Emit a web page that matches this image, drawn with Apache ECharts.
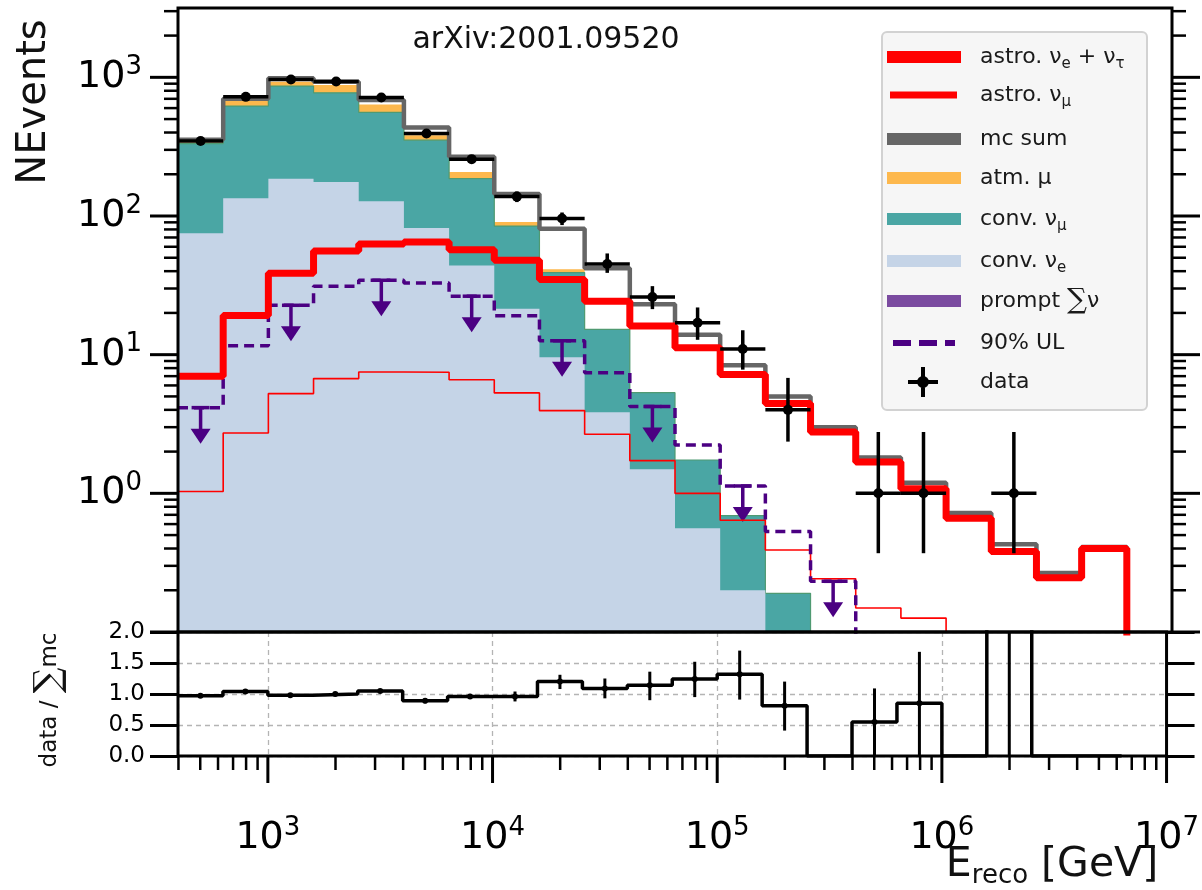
<!DOCTYPE html>
<html>
<head>
<meta charset="utf-8">
<script src="https://cdn.jsdelivr.net/npm/echarts@6/dist/echarts.min.js"></script>
<style>html,body{margin:0;padding:0;background:#fff}#chart{width:1202px;height:890px}</style>
</head>
<body>
<div id="chart"></div>
<script>
// ---------------- data ----------------
const binEdgeExponents = [2.6,2.8,3.0,3.2,3.4,3.6,3.8,4.0,4.2,4.4,4.6,4.8,5.0,5.2,5.4,5.6,5.8,6.0,6.2,6.4,6.6,6.8];
const convNuE      = [75,134,186,176,128,82,44,21.4,9.6,3.84,1.49,0.56,0.20,0.06,0,0,0,0,0,0,0];
const convNuMu     = [258,486,679,597,430,270,142,63.2,29.5,11.4,3.83,1.18,0.49,0.13,0,0,0,0,0,0,0];
const atmMu        = [6,64,64,106,79,31,22,6,2.2,0,0,0,0,0,0,0,0,0,0,0,0];
const promptNu     = [0,0,0,0,0,0,0,0,0,0,0,0,0,0,0,0,0,0,0,0,0];
const astroNuETau  = [7.0,19.2,38.7,56,62.7,65,57,48,34.8,24.3,16.1,11.2,7.2,4.45,2.77,1.68,1.08,0.66,0.38,0.246,0.40];
const astroNuMu    = [1.03,2.72,5.24,6.72,7.5,7.46,6.6,5.3,3.95,2.67,1.72,1.0,0.64,0.39,0.242,0.149,0.126,0,0,0,0];
const mcSum        = [355,700,985,930,685,435,268,144,81,42,23.1,13.9,8.4,5.0,3.0,1.81,1.19,0.72,0.43,0.266,0.41];
const upperLimit90 = [4.15,11.6,22.7,31.2,34.4,32.9,26.4,19.1,12.6,7.4,4.23,2.23,1.13,0.53,0.232,0,0,0,0,0,0];
const ulArrowBins  = [0,2,4,6,8,10,12,14];
const dataCounts   = [347,723,966,934,716,394,257,138,96,45,26,17,11,4,0,1,1,0,1,0,0];
const dataErrLow   = [19,27,31,31,27,20,16,12,10,6.1,4.7,4.2,3.2,1.64,0,0.63,0.63,0,0.63,0,0];
const dataErrHigh  = [19,27,31,31,27,20,16,12,10,8.7,5.2,4.9,4.0,2.8,0,1.77,1.77,0,1.77,0,0];
const ratio        = [0.97,1.04,0.98,1.00,1.05,0.89,0.96,0.96,1.20,1.09,1.14,1.24,1.32,0.81,0,0.55,0.85,0,2.4,0,0];
const ratioErrLow  = [0.94,1.01,0.95,0.97,1.02,0.85,0.92,0.88,1.08,0.93,0.90,0.95,0.91,0.41,null,0.0,0.0,null,0.0,null,null];
const ratioErrHigh = [1.00,1.07,1.01,1.03,1.08,0.93,1.00,1.04,1.31,1.25,1.36,1.52,1.70,1.20,null,1.09,1.68,null,5.0,null,null];
const ratioTickLabels = ['0.0','0.5','1.0','1.5','2.0'];
const xRangeExponents = [2.6, 7];
const yRangeExponents = [-1, 3.5];

// ---------------- helpers ----------------
const FONT = 'DejaVu Sans';
const LOG_FLOOR = 1e-3;
const edges = binEdgeExponents.map(e => Math.pow(10, e));
const centers = binEdgeExponents.slice(0, -1).map((e, i) => Math.pow(10, (e + binEdgeExponents[i + 1]) / 2));
const xMin = Math.pow(10, xRangeExponents[0]), xMax = Math.pow(10, xRangeExponents[1]);
const yMin = Math.pow(10, yRangeExponents[0]), yMax = Math.pow(10, yRangeExponents[1]);

function stepData(vals) {
  const pts = vals.map((v, i) => [edges[i], v > 0 ? v : LOG_FLOOR]);
  const last = vals[vals.length - 1];
  pts.push([edges[edges.length - 1], last > 0 ? last : LOG_FLOOR]);
  pts.push([edges[edges.length - 1], LOG_FLOOR]);
  return pts;
}
function cumulative(...arrs) { return arrs[0].map((_, i) => arrs.reduce((s, a) => s + a[i], 0)); }
function logTicks(lo, hi) {
  const out = [];
  for (let n = Math.floor(Math.log10(lo)); n <= Math.ceil(Math.log10(hi)); n++) {
    for (let k = 1; k <= 9; k++) {
      const v = k * Math.pow(10, n);
      if (v >= lo * 0.999 && v <= hi * 1.001) out.push([v, k === 1 ? 1 : 0]);
    }
  }
  return out;
}
function expLabel(v) {
  const e = Math.round(Math.log10(v));
  return '{b|10}{s|' + e + '}';
}
const expRich = {
  b: { fontFamily: FONT, fontSize: 38, lineHeight: 46, color: '#000' },
  s: { fontFamily: FONT, fontSize: 26, lineHeight: 46, verticalAlign: 'top', color: '#000' }
};

const topConvE = convNuE;
const topConvMu = cumulative(convNuE, convNuMu);
const topAtmMu = cumulative(convNuE, convNuMu, atmMu);

const N_ETAU = 'astro. νe + ντ', N_MU = 'astro. νμ', N_MC = 'mc sum', N_ATM = 'atm. μ',
      N_CMU = 'conv. νμ', N_CE = 'conv. νe', N_PR = 'prompt ∑ν', N_UL = '90% UL', N_DATA = 'data';

const C = {
  red: '#ff0000', gray: '#666666', orange: '#fdb84d', teal: '#4aa6a4', tealEdge: '#4f9a72',
  lblue: '#c5d4e7', prompt: '#7b4ba0', ul: '#4b0082'
};

const base = { type: 'line', step: 'end', symbol: 'none', xAxisIndex: 0, yAxisIndex: 0, clip: true, silent: true };

const series = [
  Object.assign({}, base, { name: N_ATM, z: 2, data: stepData(topAtmMu),
    itemStyle: { color: C.orange }, lineStyle: { width: 0, color: C.orange },
    areaStyle: { color: C.orange, opacity: 1, origin: 'start' } }),
  Object.assign({}, base, { name: N_CMU, z: 3, data: stepData(topConvMu),
    itemStyle: { color: C.teal }, lineStyle: { width: 1.2, color: C.tealEdge },
    areaStyle: { color: C.teal, opacity: 1, origin: 'start' } }),
  Object.assign({}, base, { name: N_CE, z: 4, data: stepData(topConvE),
    itemStyle: { color: C.lblue }, lineStyle: { width: 0, color: C.lblue },
    areaStyle: { color: C.lblue, opacity: 1, origin: 'start' } }),
  Object.assign({}, base, { name: N_PR, z: 4, data: stepData(promptNu),
    itemStyle: { color: C.prompt }, lineStyle: { width: 0, color: C.prompt },
    areaStyle: { color: C.prompt, opacity: 1, origin: 'start' } }),
  Object.assign({}, base, { name: N_MU, z: 5, data: stepData(astroNuMu),
    itemStyle: { color: C.red }, lineStyle: { width: 1.6, color: C.red } }),
  Object.assign({}, base, { name: N_UL, z: 5, data: stepData(upperLimit90),
    itemStyle: { color: C.ul }, lineStyle: { width: 3.5, color: C.ul, type: [10, 6] } }),
  {
    type: 'custom', name: N_UL, xAxisIndex: 0, yAxisIndex: 0, z: 5, clip: true, silent: true,
    itemStyle: { color: C.ul },
    data: ulArrowBins.map(i => [centers[i], upperLimit90[i]]),
    encode: { x: 0, y: 1 },
    renderItem: (p, api) => {
      const pt = api.coord([api.value(0), api.value(1)]);
      const x = pt[0], y0 = pt[1], tip = y0 + 36;
      return { type: 'group', children: [
        { type: 'line', shape: { x1: x - 9, y1: y0, x2: x + 9, y2: y0 }, style: { stroke: C.ul, lineWidth: 3.5 } },
        { type: 'line', shape: { x1: x, y1: y0, x2: x, y2: tip - 12 }, style: { stroke: C.ul, lineWidth: 3.5 } },
        { type: 'polygon', shape: { points: [[x - 10, tip - 15], [x + 10, tip - 15], [x, tip]] }, style: { fill: C.ul } }
      ] };
    }
  },
  Object.assign({}, base, { name: N_MC, z: 6, data: stepData(mcSum),
    itemStyle: { color: C.gray }, lineStyle: { width: 4.5, color: C.gray } }),
  Object.assign({}, base, { name: N_ETAU, z: 7, data: stepData(astroNuETau),
    itemStyle: { color: C.red }, lineStyle: { width: 7, color: C.red } }),
  {
    type: 'custom', name: N_DATA, xAxisIndex: 0, yAxisIndex: 0, z: 9, clip: true, silent: true,
    itemStyle: { color: '#000' },
    data: dataCounts.map((n, i) => n > 0 ? [centers[i], n, n - dataErrLow[i], n + dataErrHigh[i], edges[i], edges[i + 1]] : null).filter(Boolean),
    encode: { x: 0, y: 1 },
    renderItem: (p, api) => {
      const c = api.coord([api.value(0), api.value(1)]);
      const lo = api.coord([api.value(0), api.value(2)]);
      const hi = api.coord([api.value(0), api.value(3)]);
      const l = api.coord([api.value(4), api.value(1)]);
      const r = api.coord([api.value(5), api.value(1)]);
      return { type: 'group', children: [
        { type: 'line', shape: { x1: l[0], y1: c[1], x2: r[0], y2: c[1] }, style: { stroke: '#000', lineWidth: 3.5 } },
        { type: 'line', shape: { x1: c[0], y1: hi[1], x2: c[0], y2: lo[1] }, style: { stroke: '#000', lineWidth: 3.5 } },
        { type: 'circle', shape: { cx: c[0], cy: c[1], r: 5 }, style: { fill: '#000' } }
      ] };
    }
  },
  // ratio panel
  {
    type: 'line', step: 'end', symbol: 'none', xAxisIndex: 1, yAxisIndex: 1, clip: true, silent: true, z: 5,
    data: ratio.map((v, i) => [edges[i], v]).concat([[edges[edges.length - 1], ratio[ratio.length - 1]]]),
    lineStyle: { color: '#000', width: 3.5 }, itemStyle: { color: '#000' }
  },
  {
    type: 'custom', xAxisIndex: 1, yAxisIndex: 1, z: 6, clip: true, silent: true,
    data: ratio.map((v, i) => ratioErrLow[i] !== null ? [centers[i], v, ratioErrLow[i], ratioErrHigh[i]] : null).filter(Boolean),
    encode: { x: 0, y: 1 },
    renderItem: (p, api) => {
      const c = api.coord([api.value(0), api.value(1)]);
      const lo = api.coord([api.value(0), api.value(2)]);
      const hi = api.coord([api.value(0), api.value(3)]);
      return { type: 'group', children: [
        { type: 'line', shape: { x1: c[0], y1: hi[1], x2: c[0], y2: lo[1] }, style: { stroke: '#000', lineWidth: 3 } },
        { type: 'circle', shape: { cx: c[0], cy: c[1], r: 3 }, style: { fill: '#000' } }
      ] };
    }
  },
  // log ticks, top panel y (left + right)
  {
    type: 'custom', xAxisIndex: 0, yAxisIndex: 0, z: 12, clip: false, silent: true,
    data: logTicks(yMin, yMax).map(t => [xMin, t[0], t[1]]),
    encode: { x: 0, y: 1 },
    renderItem: (p, api) => {
      const major = api.value(2) === 1, len = major ? 28 : 14, w = major ? 3 : 2.5;
      const pl = api.coord([xMin, api.value(1)]), pr = api.coord([xMax, api.value(1)]);
      return { type: 'group', children: [
        { type: 'line', shape: { x1: pl[0] - len, y1: pl[1], x2: pl[0], y2: pl[1] }, style: { stroke: '#000', lineWidth: w } },
        { type: 'line', shape: { x1: pr[0], y1: pr[1], x2: pr[0] + len, y2: pr[1] }, style: { stroke: '#000', lineWidth: w } }
      ] };
    }
  },
  // log ticks, ratio panel x (bottom)
  {
    type: 'custom', xAxisIndex: 1, yAxisIndex: 1, z: 12, clip: false, silent: true,
    data: logTicks(xMin, xMax).map(t => [t[0], 0, t[1]]),
    encode: { x: 0, y: 1 },
    renderItem: (p, api) => {
      const major = api.value(2) === 1, len = major ? 27 : 14, w = major ? 3 : 2.5;
      const pt = api.coord([api.value(0), 0]);
      return { type: 'line', shape: { x1: pt[0], y1: pt[1], x2: pt[0], y2: pt[1] + len }, style: { stroke: '#000', lineWidth: w } };
    }
  }
];

// ---------------- legend (one component per entry) ----------------
const legendRich = {
  t: { fontFamily: FONT, fontSize: 22, lineHeight: 30, color: '#1a1a1a' },
  s: { fontFamily: FONT, fontSize: 15, lineHeight: 30, verticalAlign: 'bottom', color: '#1a1a1a' },
  big: { fontFamily: 'DejaVu Serif', fontSize: 28, lineHeight: 30, color: '#1a1a1a' }
};
const legendText = {};
legendText[N_ETAU] = '{t|astro. ν}{s|e}{t| + ν}{s|τ}';
legendText[N_MU] = '{t|astro. ν}{s|μ}';
legendText[N_MC] = '{t|mc sum}';
legendText[N_ATM] = '{t|atm. μ}';
legendText[N_CMU] = '{t|conv. ν}{s|μ}';
legendText[N_CE] = '{t|conv. ν}{s|e}';
legendText[N_PR] = '{t|prompt }{big|∑}{t|ν}';
legendText[N_UL] = '{t|90% UL}';
legendText[N_DATA] = '{t|data}';

const TEXT_X = 980;
const legendLayout = [
  { name: N_ETAU, icon: 'rect', left: 887, w: 74, h: 12, cy: 57 },
  { name: N_MU, icon: 'rect', left: 890, w: 67, h: 7, cy: 95 },
  { name: N_MC, icon: 'rect', left: 887, w: 74, h: 12, cy: 139 },
  { name: N_ATM, icon: 'rect', left: 887, w: 74, h: 12, cy: 178 },
  { name: N_CMU, icon: 'rect', left: 887, w: 74, h: 12, cy: 219 },
  { name: N_CE, icon: 'rect', left: 887, w: 74, h: 12, cy: 261 },
  { name: N_PR, icon: 'rect', left: 887, w: 74, h: 12, cy: 301 },
  { name: N_UL, icon: 'path://M0,0H18V6H0Z M26,0H44V6H26Z M52,0H62V6H52Z', left: 893, w: 62, h: 6, cy: 343 },
  { name: N_DATA, icon: 'path://M0,13H10V17H0Z M20,13H30V17H20Z M13,0H17V10H13Z M13,20H17V30H13Z M9,15A6,6 0 1,1 21,15A6,6 0 1,1 9,15Z', left: 908, w: 30, h: 30, cy: 382 }
];
const legends = legendLayout.map(it => ({
  show: true, orient: 'vertical', z: 30, padding: 0, selectedMode: false,
  left: it.left, top: it.cy - 15,
  itemWidth: it.w, itemHeight: it.h,
  itemStyle: { borderWidth: 0 },
  data: [{ name: it.name, icon: it.icon }],
  formatter: n => legendText[n],
  textStyle: { fontFamily: FONT, fontSize: 22, lineHeight: 30, color: '#1a1a1a',
               padding: [0, 0, 0, TEXT_X - (it.left + it.w + 5)], rich: legendRich }
}));

// ---------------- option ----------------
const option = {
  backgroundColor: '#ffffff',
  animation: false,
  grid: [
    { left: 178, right: 30, top: 8, height: 624, show: true, z: 10, borderColor: '#000', borderWidth: 3, backgroundColor: 'transparent' },
    { left: 178, right: 30, top: 632, height: 124, show: true, z: 10, borderColor: '#000', borderWidth: 3, backgroundColor: 'transparent' }
  ],
  xAxis: [
    { type: 'log', logBase: 10, gridIndex: 0, min: xMin, max: xMax,
      axisLine: { show: false }, axisTick: { show: false }, axisLabel: { show: false }, splitLine: { show: false } },
    { type: 'log', logBase: 10, gridIndex: 1, min: xMin, max: xMax,
      axisLine: { show: false }, axisTick: { show: false },
      axisLabel: { show: true, interval: 0, margin: 59, formatter: expLabel, rich: expRich, showMinLabel: false, showMaxLabel: true },
      splitLine: { show: true, lineStyle: { color: '#b4b4b4', width: 1.3, type: [5, 4] } } }
  ],
  yAxis: [
    { type: 'log', logBase: 10, gridIndex: 0, min: yMin, max: yMax,
      axisLine: { show: false }, axisTick: { show: false }, splitLine: { show: false },
      axisLabel: { show: true, interval: 0, margin: 36, formatter: expLabel, rich: expRich, showMinLabel: false, showMaxLabel: false } },
    { type: 'value', gridIndex: 1, min: 0, max: 2, interval: 0.5,
      axisLine: { show: false },
      axisTick: { show: true, inside: false, length: 28, lineStyle: { color: '#000', width: 3 } },
      axisLabel: { show: true, margin: 33, fontFamily: FONT, fontSize: 23, color: '#000',
                   showMinLabel: true, showMaxLabel: true,
                   formatter: v => ratioTickLabels[Math.round(v / 0.5)] },
      splitLine: { show: true, lineStyle: { color: '#b4b4b4', width: 1.3, type: [5, 4] } } },
    { type: 'value', gridIndex: 1, position: 'right', min: 0, max: 2, interval: 0.5,
      axisLine: { show: false },
      axisTick: { show: true, inside: false, length: 28, lineStyle: { color: '#000', width: 3 } },
      axisLabel: { show: false }, splitLine: { show: false } }
  ],
  legend: legends,
  series: series,
  graphic: [
    { type: 'rect', z: 20, silent: true, shape: { x: 882, y: 32, width: 265, height: 378, r: 5 },
      style: { fill: 'rgba(246,246,246,0.95)', stroke: '#d2d2d2', lineWidth: 2 } },
    { type: 'text', z: 20, silent: true, x: 546, y: 40,
      style: { text: 'arXiv:2001.09520', fontFamily: FONT, fontSize: 30, fill: '#111', align: 'center', verticalAlign: 'middle' } },
    { type: 'text', z: 20, silent: true, x: 35, y: 102, rotation: Math.PI / 2,
      style: { text: 'NEvents', fontFamily: FONT, fontSize: 40, fill: '#111', align: 'center', verticalAlign: 'middle' } },
    { type: 'text', z: 20, silent: true, x: 50, y: 700, rotation: Math.PI / 2,
      style: { text: '{s|data}{s| / }{b|∑}{s|mc}', align: 'center', verticalAlign: 'middle',
               rich: { s: { fontFamily: FONT, fontSize: 23, lineHeight: 36, fill: '#111', color: '#111' },
                       b: { fontFamily: 'DejaVu Serif', fontSize: 36, lineHeight: 36, fill: '#111', color: '#111' } } } },
    { type: 'text', z: 20, silent: true, x: 1052, y: 865,
      style: { text: '{b|E}{sub|reco}{b| [GeV]}', align: 'center', verticalAlign: 'middle',
               rich: { b: { fontFamily: FONT, fontSize: 41, lineHeight: 48, fill: '#111', color: '#111' },
                       sub: { fontFamily: FONT, fontSize: 26, lineHeight: 48, verticalAlign: 'bottom', fill: '#111', color: '#111' } } } }
  ]
};

const chart = echarts.init(document.getElementById('chart'), null, { renderer: 'canvas' });
chart.setOption(option);
</script>
</body>
</html>
